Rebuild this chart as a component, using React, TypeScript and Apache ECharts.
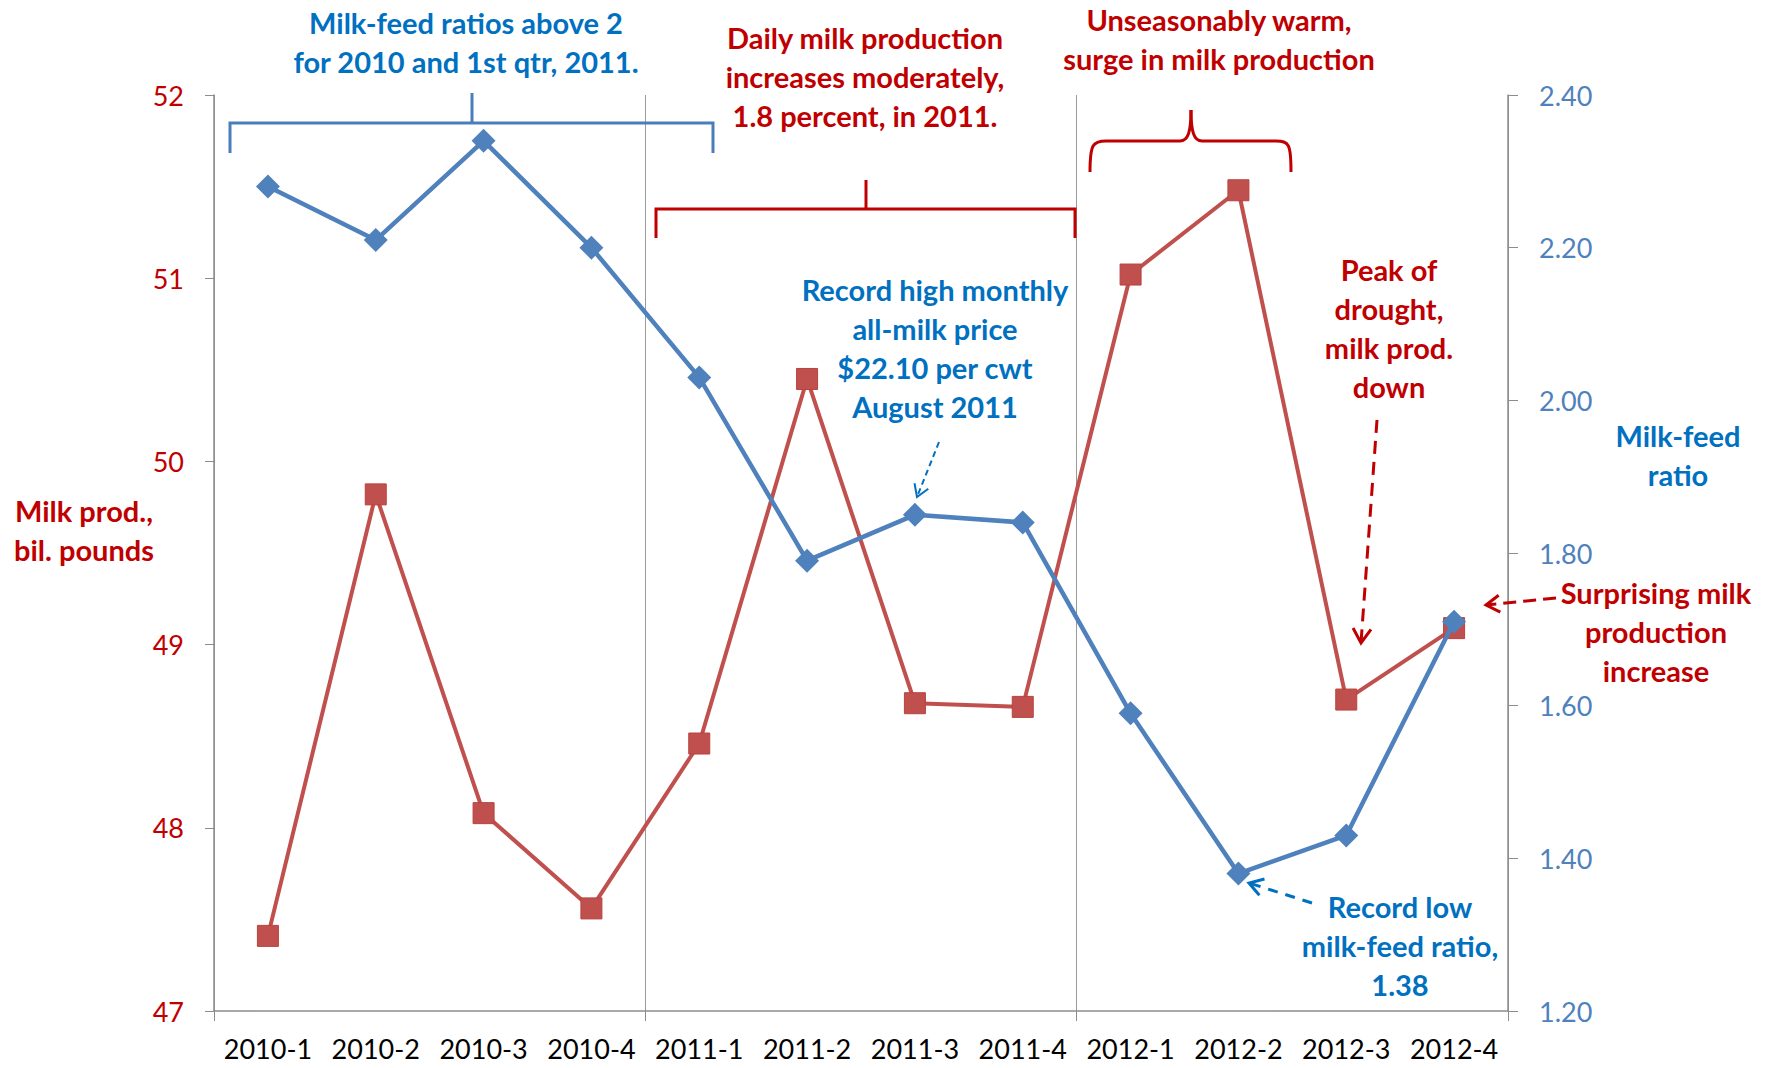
import React, { useEffect, useRef } from "react";
import * as echarts from "echarts";

const categories = ["2010-1", "2010-2", "2010-3", "2010-4", "2011-1", "2011-2", "2011-3", "2011-4", "2012-1", "2012-2", "2012-3", "2012-4"];
const milkProduction = [47.41, 49.82, 48.08, 47.56, 48.46, 50.45, 48.68, 48.66, 51.02, 51.48, 48.70, 49.09];
const milkFeedRatio = [2.28, 2.21, 2.34, 2.20, 2.03, 1.79, 1.85, 1.84, 1.59, 1.38, 1.43, 1.71];
const leftTicks = { min: 47, max: 52, interval: 1 };
const rightTicks = { min: 1.2, max: 2.4, interval: 0.2 };
const yearBoundaryEvery = 4;

const RED_TEXT = "#C00000";
const BLUE_TEXT = "#0070C0";
const RED_LINE = "#C0504D";
const BLUE_LINE = "#4F81BD";
const FONT = "Lato, 'Noto Sans', sans-serif";
const ANN = 29;

function label(text: string, x: number, y: number, fill: string, size = ANN, weight = "bold") {
  return {
    type: "text",
    z: 10,
    style: {
      text,
      x,
      y,
      fill,
      font: `${weight} ${size}px ${FONT}`,
      lineHeight: 39,
      align: "center",
      textAlign: "center",
      verticalAlign: "middle",
      textVerticalAlign: "middle",
    },
  };
}

function arrow(x1: number, y1: number, x2: number, y2: number, color: string, width: number, dash: number[], head: number) {
  const ang = Math.atan2(y2 - y1, x2 - x1);
  const a = (32 * Math.PI) / 180;
  const p1 = [x2 - head * Math.cos(ang - a), y2 - head * Math.sin(ang - a)];
  const p2 = [x2 - head * Math.cos(ang + a), y2 - head * Math.sin(ang + a)];
  return [
    {
      type: "line",
      z: 10,
      shape: { x1, y1, x2, y2 },
      style: { stroke: color, lineWidth: width, lineDash: dash },
    },
    {
      type: "polyline",
      z: 10,
      shape: { points: [p1, [x2, y2], p2] },
      style: { stroke: color, lineWidth: width, fill: "none" },
    },
  ];
}

export default function App() {
  const ref = useRef<HTMLDivElement>(null);
  useEffect(() => {
    if (!ref.current) return;
    const chart = echarts.init(ref.current, null, { renderer: "svg" });
    const braceColor = RED_TEXT;
    const boundaryInterval = (index: number) => index % yearBoundaryEvery === 0;
    const option: any = {
      animation: false,
      backgroundColor: "#ffffff",
      grid: { left: 214, right: 269, top: 95, bottom: 57, containLabel: false },
      xAxis: {
        type: "category",
        data: categories,
        boundaryGap: true,
        axisLine: { show: true, lineStyle: { color: "#8c8c8c", width: 1.5 } },
        axisTick: { show: true, interval: boundaryInterval, length: 10, lineStyle: { color: "#8c8c8c" } },
        splitLine: { show: true, interval: boundaryInterval, lineStyle: { color: "#9a9a9a", width: 1 } },
        axisLabel: { interval: 0, color: "#000000", fontFamily: FONT, fontSize: 27, margin: 24 },
      },
      yAxis: [
        {
          type: "value",
          min: leftTicks.min,
          max: leftTicks.max,
          interval: leftTicks.interval,
          position: "left",
          axisLine: { show: true, lineStyle: { color: "#8c8c8c", width: 1.5 } },
          axisTick: { show: true, length: 9, lineStyle: { color: "#8c8c8c" } },
          splitLine: { show: false },
          axisLabel: { color: RED_TEXT, fontFamily: FONT, fontSize: 27, margin: 30 },
        },
        {
          type: "value",
          min: rightTicks.min,
          max: rightTicks.max,
          interval: rightTicks.interval,
          position: "right",
          axisLine: { show: true, lineStyle: { color: "#8c8c8c", width: 1.5 } },
          axisTick: { show: true, length: 10, lineStyle: { color: "#8c8c8c" } },
          splitLine: { show: false },
          axisLabel: {
            color: BLUE_LINE,
            fontFamily: FONT,
            fontSize: 27,
            margin: 31,
            formatter: (v: number) => v.toFixed(2),
          },
        },
      ],
      series: [
        {
          name: "Milk production",
          type: "line",
          yAxisIndex: 0,
          data: milkProduction,
          symbol: "rect",
          symbolSize: 21,
          lineStyle: { color: RED_LINE, width: 4 },
          itemStyle: { color: RED_LINE, borderColor: "#b8423f", borderWidth: 1 },
          z: 3,
        },
        {
          name: "Milk-feed ratio",
          type: "line",
          yAxisIndex: 1,
          data: milkFeedRatio,
          symbol: "diamond",
          symbolSize: 24,
          lineStyle: { color: BLUE_LINE, width: 4.5 },
          itemStyle: { color: BLUE_LINE },
          z: 4,
        },
      ],
      graphic: [
        // axis names
        label("Milk prod.,\nbil. pounds", 84, 530, RED_TEXT),
        label("Milk-feed\nratio", 1678, 455, BLUE_TEXT),
        // top-left blue bracket
        label("Milk-feed ratios above 2\nfor 2010 and 1st qtr, 2011.", 466, 42, BLUE_TEXT),
        {
          type: "polyline",
          z: 10,
          shape: { points: [[230, 153], [230, 123], [713, 123], [713, 153]] },
          style: { stroke: "#4A7EBB", lineWidth: 3, fill: "none" },
        },
        { type: "line", z: 10, shape: { x1: 472, y1: 123, x2: 472, y2: 93 }, style: { stroke: "#4A7EBB", lineWidth: 3 } },
        // red bracket 2011
        label("Daily milk production\nincreases moderately,\n1.8 percent, in 2011.", 865, 76, RED_TEXT),
        {
          type: "polyline",
          z: 10,
          shape: { points: [[656, 238], [656, 209], [1075, 209], [1075, 238]] },
          style: { stroke: braceColor, lineWidth: 3, fill: "none" },
        },
        { type: "line", z: 10, shape: { x1: 866, y1: 209, x2: 866, y2: 180 }, style: { stroke: braceColor, lineWidth: 3 } },
        // curly brace 2012 H1
        label("Unseasonably warm,\nsurge in milk production", 1219, 39, RED_TEXT),
        {
          type: "bezierCurve",
          z: 10,
          shape: { x1: 1090, y1: 172, cpx1: 1090, cpy1: 144, cpx2: 1093, cpy2: 141, x2: 1106, y2: 141 },
          style: { stroke: braceColor, lineWidth: 3, fill: "none" },
        },
        { type: "line", z: 10, shape: { x1: 1106, y1: 141, x2: 1180, y2: 141 }, style: { stroke: braceColor, lineWidth: 3 } },
        {
          type: "bezierCurve",
          z: 10,
          shape: { x1: 1180, y1: 141, cpx1: 1188, cpy1: 141, cpx2: 1191, cpy2: 132, x2: 1191, y2: 110 },
          style: { stroke: braceColor, lineWidth: 3, fill: "none" },
        },
        {
          type: "bezierCurve",
          z: 10,
          shape: { x1: 1191, y1: 110, cpx1: 1191, cpy1: 132, cpx2: 1194, cpy2: 141, x2: 1202, y2: 141 },
          style: { stroke: braceColor, lineWidth: 3, fill: "none" },
        },
        { type: "line", z: 10, shape: { x1: 1202, y1: 141, x2: 1276, y2: 141 }, style: { stroke: braceColor, lineWidth: 3 } },
        {
          type: "bezierCurve",
          z: 10,
          shape: { x1: 1276, y1: 141, cpx1: 1289, cpy1: 141, cpx2: 1291, cpy2: 144, x2: 1291, y2: 172 },
          style: { stroke: braceColor, lineWidth: 3, fill: "none" },
        },
        // record high
        label("Record high monthly\nall-milk price\n$22.10 per cwt\nAugust 2011", 935, 348, BLUE_TEXT),
        ...arrow(939, 442, 917, 497, BLUE_TEXT, 2, [6, 4], 14),
        // drought
        label("Peak of\ndrought,\nmilk prod.\ndown", 1389, 328, RED_TEXT),
        ...arrow(1377, 420, 1361, 643, RED_TEXT, 3, [13, 8], 17),
        // surprising
        label("Surprising milk\nproduction\nincrease", 1656, 631, RED_TEXT),
        ...arrow(1556, 598, 1486, 605, RED_TEXT, 3, [13, 7], 16),
        // record low
        label("Record low\nmilk-feed ratio,\n1.38", 1400, 945, BLUE_TEXT),
        ...arrow(1312, 903, 1249, 883, BLUE_TEXT, 3, [10, 8], 16),
      ],
    };
    chart.setOption(option);
    return () => chart.dispose();
  }, []);
  return (
    <div
      ref={ref}
      style={{ position: "fixed", left: 0, top: 0, width: 1777, height: 1068, background: "#fff" }}
    />
  );
}
